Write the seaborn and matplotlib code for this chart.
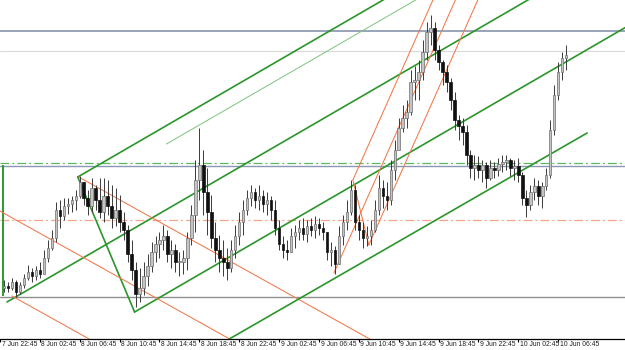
import numpy as np
import pandas as pd
import matplotlib
matplotlib.use("Agg")
import matplotlib.pyplot as plt
import seaborn as sns

# ---------------- data (price in points) ----------------
time_labels = ["7 Jun 22:45", "8 Jun 02:45", "8 Jun 06:45", "8 Jun 10:45", "8 Jun 14:45",
               "8 Jun 18:45", "8 Jun 22:45", "9 Jun 02:45", "9 Jun 06:45", "9 Jun 10:45",
               "9 Jun 14:45", "9 Jun 18:45", "9 Jun 22:45", "10 Jun 02:45", "10 Jun 06:45"]
bars_per_label = 10

first_open = 51
closes = [53, 51, 57, 47, 54, 61, 67, 63, 69, 65,
          81, 91, 101, 129, 123, 133, 135, 139, 143, 157,
          141, 133, 151, 139, 127, 143, 133, 121, 129, 117,
          109, 85, 69, 45, 51, 63, 73, 87, 95, 99,
          103, 85, 89, 77, 77, 81, 101, 124, 159, 174,
          147, 127, 101, 89, 81, 77, 71, 89, 103, 117,
          129, 141, 147, 139, 143, 135, 139, 129, 111, 95,
          89, 87, 103, 107, 111, 105, 113, 109, 115, 111,
          107, 87, 89, 75, 103, 117, 127, 149, 117, 109,
          101, 103, 109, 129, 151, 143, 139, 169, 189, 211,
          221, 227, 257, 259, 267, 287, 307, 311, 289, 277,
          267, 257, 239, 219, 213, 207, 184, 171, 174, 169,
          174, 161, 171, 169, 175, 177, 179, 171, 173, 164,
          141, 134, 147, 153, 143, 153, 164, 209, 244, 267,
          281, 284]
highs = [59, 57, 61, 59, 57, 65, 74, 71, 73, 77,
         89, 99, 109, 137, 139, 141, 141, 143, 149, 163,
         157, 149, 161, 154, 161, 161, 159, 154, 151, 144,
         127, 114, 99, 77, 71, 77, 85, 97, 103, 107,
         114, 109, 99, 95, 87, 89, 107, 134, 179, 211,
         189, 171, 144, 117, 104, 99, 91, 99, 114, 127,
         139, 149, 154, 151, 154, 149, 147, 143, 139, 119,
         103, 99, 111, 114, 119, 121, 119, 121, 123, 121,
         117, 104, 97, 93, 113, 124, 139, 159, 154, 124,
         117, 113, 119, 139, 164, 159, 157, 179, 199, 221,
         234, 239, 269, 273, 279, 299, 317, 324, 317, 294,
         279, 274, 261, 247, 224, 221, 214, 189, 184, 183,
         179, 177, 179, 177, 181, 184, 184, 181, 179, 181,
         167, 149, 154, 161, 159, 157, 171, 219, 254, 277,
         287, 294]
lows = [47, 47, 49, 42, 45, 51, 59, 57, 59, 61,
        67, 77, 89, 97, 111, 119, 125, 127, 129, 141,
        134, 124, 127, 129, 121, 117, 124, 111, 113, 107,
        99, 77, 59, 32, 37, 44, 53, 67, 77, 81,
        89, 77, 71, 67, 63, 65, 69, 94, 107, 139,
        124, 104, 91, 77, 67, 63, 59, 67, 81, 94,
        104, 124, 133, 131, 129, 127, 124, 119, 104, 89,
        81, 79, 87, 91, 99, 99, 97, 103, 101, 104,
        99, 79, 73, 65, 77, 94, 109, 124, 109, 99,
        91, 93, 94, 107, 124, 131, 129, 134, 159, 189,
        207, 211, 224, 239, 239, 259, 279, 294, 279, 269,
        254, 247, 229, 209, 199, 194, 174, 161, 159, 161,
        157, 151, 159, 161, 163, 167, 169, 163, 159, 157,
        134, 122, 129, 139, 134, 131, 149, 161, 204, 239,
        259, 269]

# drawing objects: (bar index, price)
green_fork = [(1.75, 37), (19.5, 162), (33.75, 27)]       # Andrews pitchfork A, B, C
orange_fork = [(83.75, 66), (88.5, 159), (92.5, 94)]      # Andrews pitchfork A, B, C
orange_channel_slope = -2.22
orange_channel_starts = [(-5, 139), (19.75, 162), (3, 43)]
green_trend = [(57.5, 0), (147.25, 206)]
thin_green_trend = [(41.75, 195), (104.25, 339)]
green_vertical = (0.75, 43, 174)
levels = [308, 288, 176.5, 173.5, 119.5, 42.5]

# ---------------- figure ----------------
sns.set_theme(style="white")
plt.rcParams['font.family'] = ['Liberation Sans', 'DejaVu Sans']

fig = plt.figure(figsize=(6.25, 3.5), dpi=100)
ax = fig.add_axes([0, 11 / 350, 1, 339 / 350])
ax.set_facecolor("white")

n = len(closes)
bars = np.arange(1, n + 1)
c = np.array(closes, float)
o = np.array([first_open] + closes[:-1], float)
h = np.maximum(np.array(highs, float), np.maximum(o, c))
l = np.minimum(np.array(lows, float), np.minimum(o, c))

df = pd.DataFrame({"bar": bars, "open": o, "high": h, "low": l, "close": c})
df["bull"] = df["close"] >= df["open"]

# horizontal levels
lv_styles = [dict(color="#7d8aa6", lw=1.1, ls="-"),
             dict(color="#d9d9d9", lw=0.8, ls="-"),
             dict(color="#5cb85c", lw=0.9, ls=(0, (7, 2.5, 1.5, 2.5))),
             dict(color="#8a97b5", lw=1.0, ls="-"),
             dict(color="#f4a488", lw=0.9, ls=(0, (7, 2.5, 1.5, 2.5))),
             dict(color="#8f8f8f", lw=1.0, ls="-")]
for y, st in zip(levels, lv_styles):
    ax.axhline(y, zorder=1, **st)

ax.vlines(green_vertical[0], green_vertical[1], green_vertical[2], color="#2e9a2e", lw=1.4, zorder=2)

GREEN = "#2a962a"
ORANGE = "#f2784a"


def seg(p, q, color, lw, z=3):
    sns.lineplot(x=[p[0], q[0]], y=[p[1], q[1]], ax=ax, color=color, linewidth=lw,
                 estimator=None, sort=False, zorder=z, legend=False)


def pitchfork(pts, color, lw, z=3):
    (ax_, ay), (bx, by), (cx, cy) = pts
    mx, my = (bx + cx) / 2, (by + cy) / 2
    dx, dy = mx - ax_, my - ay
    k = 400.0 / dx
    seg((ax_, ay), (ax_ + dx * k, ay + dy * k), color, lw, z)
    seg((bx, by), (bx + dx * k, by + dy * k), color, lw, z)
    seg((cx, cy), (cx + dx * k, cy + dy * k), color, lw, z)
    seg((bx, by), (cx, cy), color, lw, z)


pitchfork(green_fork, GREEN, 1.2)
pitchfork(orange_fork, ORANGE, 0.75)
for sx, sy in orange_channel_starts:
    seg((sx, sy), (sx + 200, sy + orange_channel_slope * 200), ORANGE, 0.75)
seg(green_trend[0], green_trend[1], GREEN, 1.2)
seg(thin_green_trend[0], thin_green_trend[1], "#7cc47c", 0.7)

# candles
ax.vlines(df["bar"], df["low"], df["high"], color="#3a3a3a", lw=0.7, zorder=4)
body_bottom = np.minimum(df["open"], df["close"])
body_h = np.maximum(np.abs(df["close"] - df["open"]), 0.8)
fill = np.where(df["bull"], "#c4c4c4", "#111111")
edge = np.where(df["bull"], "#6e6e6e", "#111111")
ax.bar(df["bar"], body_h, bottom=body_bottom, width=0.62, color=fill,
       edgecolor=edge, linewidth=0.5, zorder=5)

ax.set_xlim(0.5, 156.75)
ax.set_ylim(0, 339)
ax.set_yticks([])
for s in ["left", "right", "top"]:
    ax.spines[s].set_visible(False)
ax.spines["bottom"].set_color("#000000")
ax.spines["bottom"].set_linewidth(0.9)

tick_pos = [k * bars_per_label for k in range(len(time_labels))]
ax.set_xticks(tick_pos)
ax.set_xticklabels([])
ax.tick_params(axis="x", direction="out", length=2.5, width=0.8, color="#000000", bottom=True)
for pos, lab in zip(tick_pos, time_labels):
    ax.text(pos + 0.4, -2.2, lab, ha="left", va="top", fontsize=4.9,
            color="#202020", clip_on=False)

fig.savefig("out.png", dpi=100, facecolor="white")
